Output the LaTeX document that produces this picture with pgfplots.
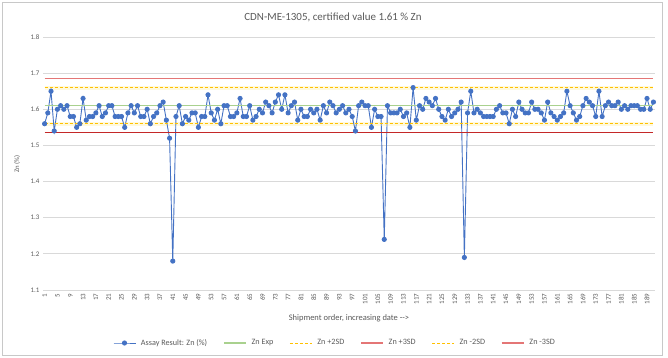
\documentclass[border=0pt]{standalone}
\usepackage{fontspec}
\setmainfont{Carlito}
\usepackage{pgfplots}
\usepackage{pgfplotstable}
\pgfplotsset{compat=1.18}
\definecolor{txtc}{RGB}{89,89,89}
\definecolor{gridc}{RGB}{217,217,217}
\definecolor{bluc}{RGB}{68,114,196}
\definecolor{grnc}{RGB}{169,209,142}
\definecolor{goldc}{RGB}{255,192,0}
\definecolor{glowc}{RGB}{255,249,220}
\definecolor{redAc}{RGB}{228,118,118}
\definecolor{redBc}{RGB}{196,40,40}
\definecolor{framec}{RGB}{200,200,200}
\pgfplotsset{
  lineleg/.style={legend image code/.code={\draw[##1] (0bp,0bp) -- (22bp,0bp);}},
  markleg/.style={legend image code/.code={\draw[mark repeat=2,mark phase=2,##1] plot coordinates {(0bp,0bp) (11bp,0bp) (22bp,0bp)};}},
}

\pgfplotstableread{
x y
1 1.56
2 1.59
3 1.65
4 1.54
5 1.60
6 1.61
7 1.60
8 1.61
9 1.58
10 1.58
11 1.55
12 1.56
13 1.63
14 1.57
15 1.58
16 1.58
17 1.59
18 1.61
19 1.58
20 1.59
21 1.61
22 1.61
23 1.58
24 1.58
25 1.58
26 1.55
27 1.59
28 1.61
29 1.59
30 1.61
31 1.58
32 1.58
33 1.60
34 1.56
35 1.58
36 1.59
37 1.61
38 1.62
39 1.57
40 1.52
41 1.18
42 1.58
43 1.61
44 1.56
45 1.58
46 1.57
47 1.59
48 1.59
49 1.55
50 1.58
51 1.58
52 1.64
53 1.59
54 1.57
55 1.60
56 1.56
57 1.61
58 1.61
59 1.58
60 1.58
61 1.59
62 1.63
63 1.58
64 1.58
65 1.61
66 1.57
67 1.58
68 1.60
69 1.59
70 1.62
71 1.61
72 1.59
73 1.62
74 1.64
75 1.60
76 1.64
77 1.59
78 1.61
79 1.62
80 1.57
81 1.60
82 1.58
83 1.58
84 1.60
85 1.59
86 1.60
87 1.57
88 1.61
89 1.59
90 1.62
91 1.61
92 1.59
93 1.60
94 1.61
95 1.59
96 1.60
97 1.58
98 1.54
99 1.61
100 1.62
101 1.61
102 1.61
103 1.55
104 1.60
105 1.58
106 1.58
107 1.24
108 1.61
109 1.59
110 1.59
111 1.59
112 1.60
113 1.58
114 1.59
115 1.55
116 1.66
117 1.57
118 1.61
119 1.60
120 1.63
121 1.62
122 1.61
123 1.63
124 1.60
125 1.58
126 1.57
127 1.60
128 1.58
129 1.59
130 1.60
131 1.62
132 1.19
133 1.59
134 1.65
135 1.59
136 1.60
137 1.59
138 1.58
139 1.58
140 1.58
141 1.58
142 1.60
143 1.61
144 1.59
145 1.59
146 1.56
147 1.60
148 1.58
149 1.62
150 1.60
151 1.59
152 1.59
153 1.62
154 1.60
155 1.60
156 1.59
157 1.57
158 1.62
159 1.59
160 1.58
161 1.57
162 1.58
163 1.59
164 1.65
165 1.61
166 1.59
167 1.57
168 1.58
169 1.61
170 1.63
171 1.62
172 1.61
173 1.58
174 1.65
175 1.58
176 1.61
177 1.62
178 1.61
179 1.61
180 1.62
181 1.60
182 1.61
183 1.60
184 1.61
185 1.61
186 1.61
187 1.60
188 1.60
189 1.63
190 1.60
191 1.62
}\assay

\begin{document}
\begin{tikzpicture}[x=1bp,y=1bp]
\useasboundingbox (0,0) rectangle (668,357);
\draw[framec, line width=0.8bp] (2,2) rectangle (662,355);
\begin{axis}[
  at={(43bp,67bp)}, anchor=south west,
  width=612bp, height=253bp, scale only axis,
  xmin=0.5, xmax=191.5, ymin=1.1, ymax=1.8,
  ytick={1.1,1.2,1.3,1.4,1.5,1.6,1.7,1.8},
  xtick={1,5,...,189},
  ymajorgrids, grid style={gridc, line width=0.8bp},
  axis line style={draw=none},
  major tick length=0pt,
  /pgf/number format/assume math mode=true,
  yticklabel style={/pgf/number format/.cd, fixed, fixed zerofill, precision=1},
  ticklabel style={font=\fontsize{7}{8}\selectfont, text=txtc},
  xticklabel style={rotate=90, anchor=east},
  legend columns=6,
  legend style={at={(axis description cs:0.477,-0.2095)}, anchor=center, draw=none, fill=none,
    font=\fontsize{8.2}{9}\selectfont, text=txtc,
    /tikz/every odd column/.append style={column sep=3bp},
    /tikz/every even column/.append style={column sep=14bp}},
  legend cell align=left,
]
\addplot[glowc, line width=4bp, forget plot] coordinates {(1,1.66) (191,1.66)};
\addplot[glowc, line width=4bp, forget plot] coordinates {(1,1.56) (191,1.56)};
\addplot[bluc, line width=0.9bp, mark=*, mark size=2.1bp, mark options={fill=bluc, draw=bluc, solid}, markleg]
  table[x=x,y=y]{\assay};
\addlegendentry{Assay Result: Zn (\%)}
\addplot[grnc, line width=1.4bp, lineleg]
  coordinates {(1,1.61) (191,1.61)};
\addlegendentry{Zn Exp}
\addplot[goldc, line width=1bp, dash pattern=on 3bp off 2bp, lineleg]
  coordinates {(1,1.66) (191,1.66)};
\addlegendentry{Zn +2SD}
\addplot[redAc, line width=1.4bp, lineleg]
  coordinates {(1,1.685) (191,1.685)};
\addlegendentry{Zn +3SD}
\addplot[goldc, line width=1bp, dash pattern=on 3bp off 2bp, lineleg]
  coordinates {(1,1.56) (191,1.56)};
\addlegendentry{Zn -2SD}
\addplot[redBc, line width=1.2bp, legend image code/.code={\draw[redAc,line width=1.4bp] (0bp,0bp) -- (22bp,0bp);}]
  coordinates {(1,1.535) (191,1.535)};
\addlegendentry{Zn -3SD}
\end{axis}
\node[font=\fontsize{11}{13}\selectfont, text=txtc] at (333,340) {CDN-ME-1305, certified value 1.61 \% Zn};
\node[font=\fontsize{8.5}{10}\selectfont, text=txtc] at (349,39) {Shipment order, increasing date -{}->};
\node[font=\fontsize{6.8}{8}\selectfont, text=txtc, rotate=90] at (17,193) {Zn (\%)};
\end{tikzpicture}
\end{document}
